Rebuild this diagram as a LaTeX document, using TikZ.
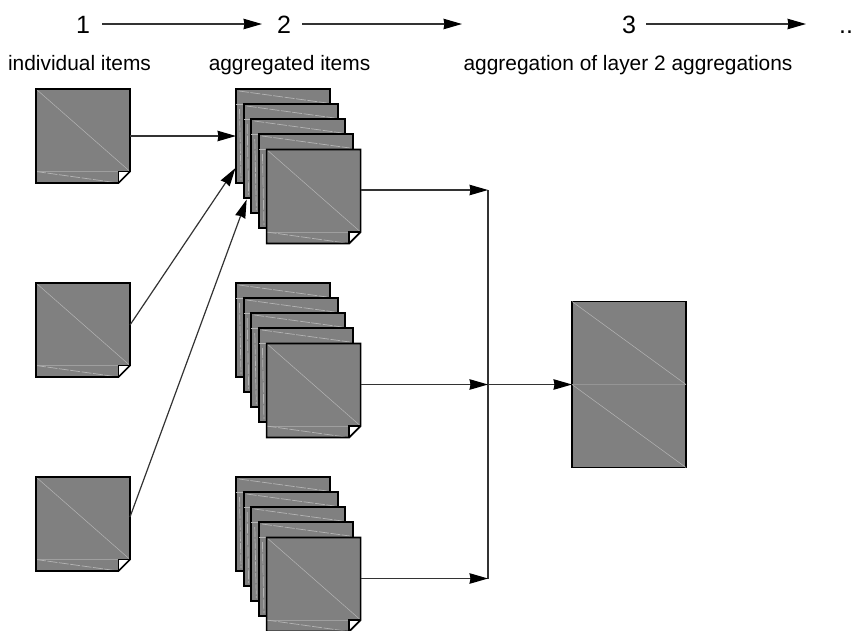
\documentclass[tikz,border=0pt]{standalone}
\usepackage{fontspec}
\setmainfont{Liberation Sans}
\usetikzlibrary{arrows.meta}
\tikzset{
  x=1pt,y=-1pt,
  pagebox/.style={anchor=north west,minimum width=94pt,minimum height=94pt,inner sep=0pt,outer sep=0pt},
  backbox/.style={pagebox,draw=black,fill=pagegray,line width=1.7pt},
  pageline/.style={line width=1.7pt,draw=black,line join=miter},
  faint/.style={draw=lightline,line width=0.5pt},
  faintdash/.style={draw=lightline,line width=0.7pt,dash pattern=on 10pt off 1.5pt},
  conn/.style={draw=connc,line width=1.2pt,-{Stealth[length=18.5pt,width=10.5pt,inset=1pt,color=black,fill=black]}},
  plainconn/.style={draw=connc,line width=1.2pt},
  lab/.style={inner sep=0pt,font=\fontsize{20.9pt}{24pt}\selectfont,anchor=base},
  num/.style={inner sep=0pt,font=\fontsize{25pt}{28pt}\selectfont,anchor=base},
}
\definecolor{pagegray}{HTML}{808080}
\definecolor{lightline}{HTML}{B4B4B4}
\definecolor{connc}{HTML}{333333}
\newcommand{\frontpage}[3]{%
  \node[pagebox] (#1) at (#2,#3) {};
  \fill[pagegray] (#1.north west) -- (#1.north east) -- ([yshift=11.5pt]#1.south east) -- ([xshift=-11.5pt]#1.south east) -- (#1.south west) -- cycle;
  \draw[faint] (#1.north west) -- ([yshift=11.5pt]#1.south east);
  \draw[faint,draw=lightline!60!pagegray] ([yshift=11.5pt]#1.south west) -- ([yshift=11.5pt]#1.south east);
  \draw[faintdash] ([yshift=11.5pt]#1.south west) -- ([xshift=-11.5pt]#1.south east);
  \fill[white] ([xshift=-11.5pt,yshift=11.5pt]#1.south east) -- ([yshift=11.5pt]#1.south east) -- ([xshift=-11.5pt]#1.south east) -- cycle;
  \draw[pageline] (#1.north west) -- (#1.north east) -- ([yshift=11.5pt]#1.south east) -- ([xshift=-11.5pt]#1.south east) -- (#1.south west) -- cycle;
  \draw[pageline] ([yshift=11.5pt]#1.south east) -- ([xshift=-11.5pt,yshift=11.5pt]#1.south east) -- ([xshift=-11.5pt]#1.south east);
}
\newcommand{\backpage}[3]{%
  \node[backbox] (#1) at (#2,#3) {};
  \draw[faintdash] ([xshift=3pt,yshift=-2pt]#1.north west) -- ([xshift=-3pt,yshift=-14pt]#1.north east);
  \draw[faint] ([yshift=-15pt]#1.north west) -- ([xshift=7pt,yshift=-15pt]#1.north west);
  \draw[faintdash] ([xshift=3.5pt,yshift=-20pt]#1.north west) -- ([xshift=5pt,yshift=3pt]#1.south west);
}
\newcommand{\pagestack}[3]{%
  \begin{scope}[shift={(#2,#3)}]
    \backpage{#1a}{0}{0}
    \backpage{#1b}{7.65}{15}
    \backpage{#1c}{15.3}{30}
    \backpage{#1d}{22.95}{45}
    \frontpage{#1e}{30.6}{60.5}
  \end{scope}
}
\begin{document}
\begin{tikzpicture}
\useasboundingbox (0,0) rectangle (854,630);
\clip (0,0) rectangle (854,630);
% headings
\node[num] (n1) at (83,33) {1};
\node[num] (n2) at (284,33) {2};
\node[num] (n3) at (629,33) {3};
\node[num] (ndots) at (846,33) {..};
\coordinate (a1s) at (102,24);
\coordinate (a1e) at (262,24);
\coordinate (a2s) at (302,24);
\coordinate (a2e) at (462,24);
\coordinate (a3s) at (646,24);
\coordinate (a3e) at (806,24);
\draw[conn] (a1s) -- (a1e);
\draw[conn] (a2s) -- (a2e);
\draw[conn] (a3s) -- (a3e);
\node[lab] (t1) at (79.5,70.5) {individual items};
\node[lab] (t2) at (289.5,70.5) {aggregated items};
\node[lab] (t3) at (628,70.5) {aggregation of layer 2 aggregations};
% pages
\frontpage{ia}{36}{89}
\frontpage{ib}{36}{283}
\frontpage{ic}{36}{477}
\pagestack{sa}{236}{89}
\pagestack{sb}{236}{283}
\pagestack{sc}{236}{477}
% aggregate
\node[pagebox,minimum width=114pt,minimum height=166pt,draw=black,fill=pagegray,line width=1.7pt] (big) at (572,301.5) {};
\draw[faint] (big.north west) -- (big.east);
\draw[faint] (big.west) -- (big.south east);
\draw[faint,draw=lightline!40!pagegray] (big.west) -- (big.east);
% connectors
\coordinate (bustop) at (488,190);
\coordinate (busmid) at (488,384.5);
\coordinate (busbot) at (488,578.5);
\draw[plainconn] (bustop) -- (busbot);
\draw[conn] (ia.east) -- (saa.west |- ia.east);
\draw[conn] ([yshift=5pt]ib.east) -- ([xshift=-0.5pt,yshift=15pt]saa.south west);
\draw[conn] ([yshift=7pt]ic.east) -- ([xshift=3pt,yshift=-1.5pt]sab.south west);
\draw[conn] (sae.east |- bustop) -- (bustop);
\draw[conn] (sbe.east |- busmid) -- (busmid);
\draw[conn] (sce.east |- busbot) -- (busbot);
\draw[conn] (busmid) -- (big.west |- busmid);
\end{tikzpicture}
\end{document}
